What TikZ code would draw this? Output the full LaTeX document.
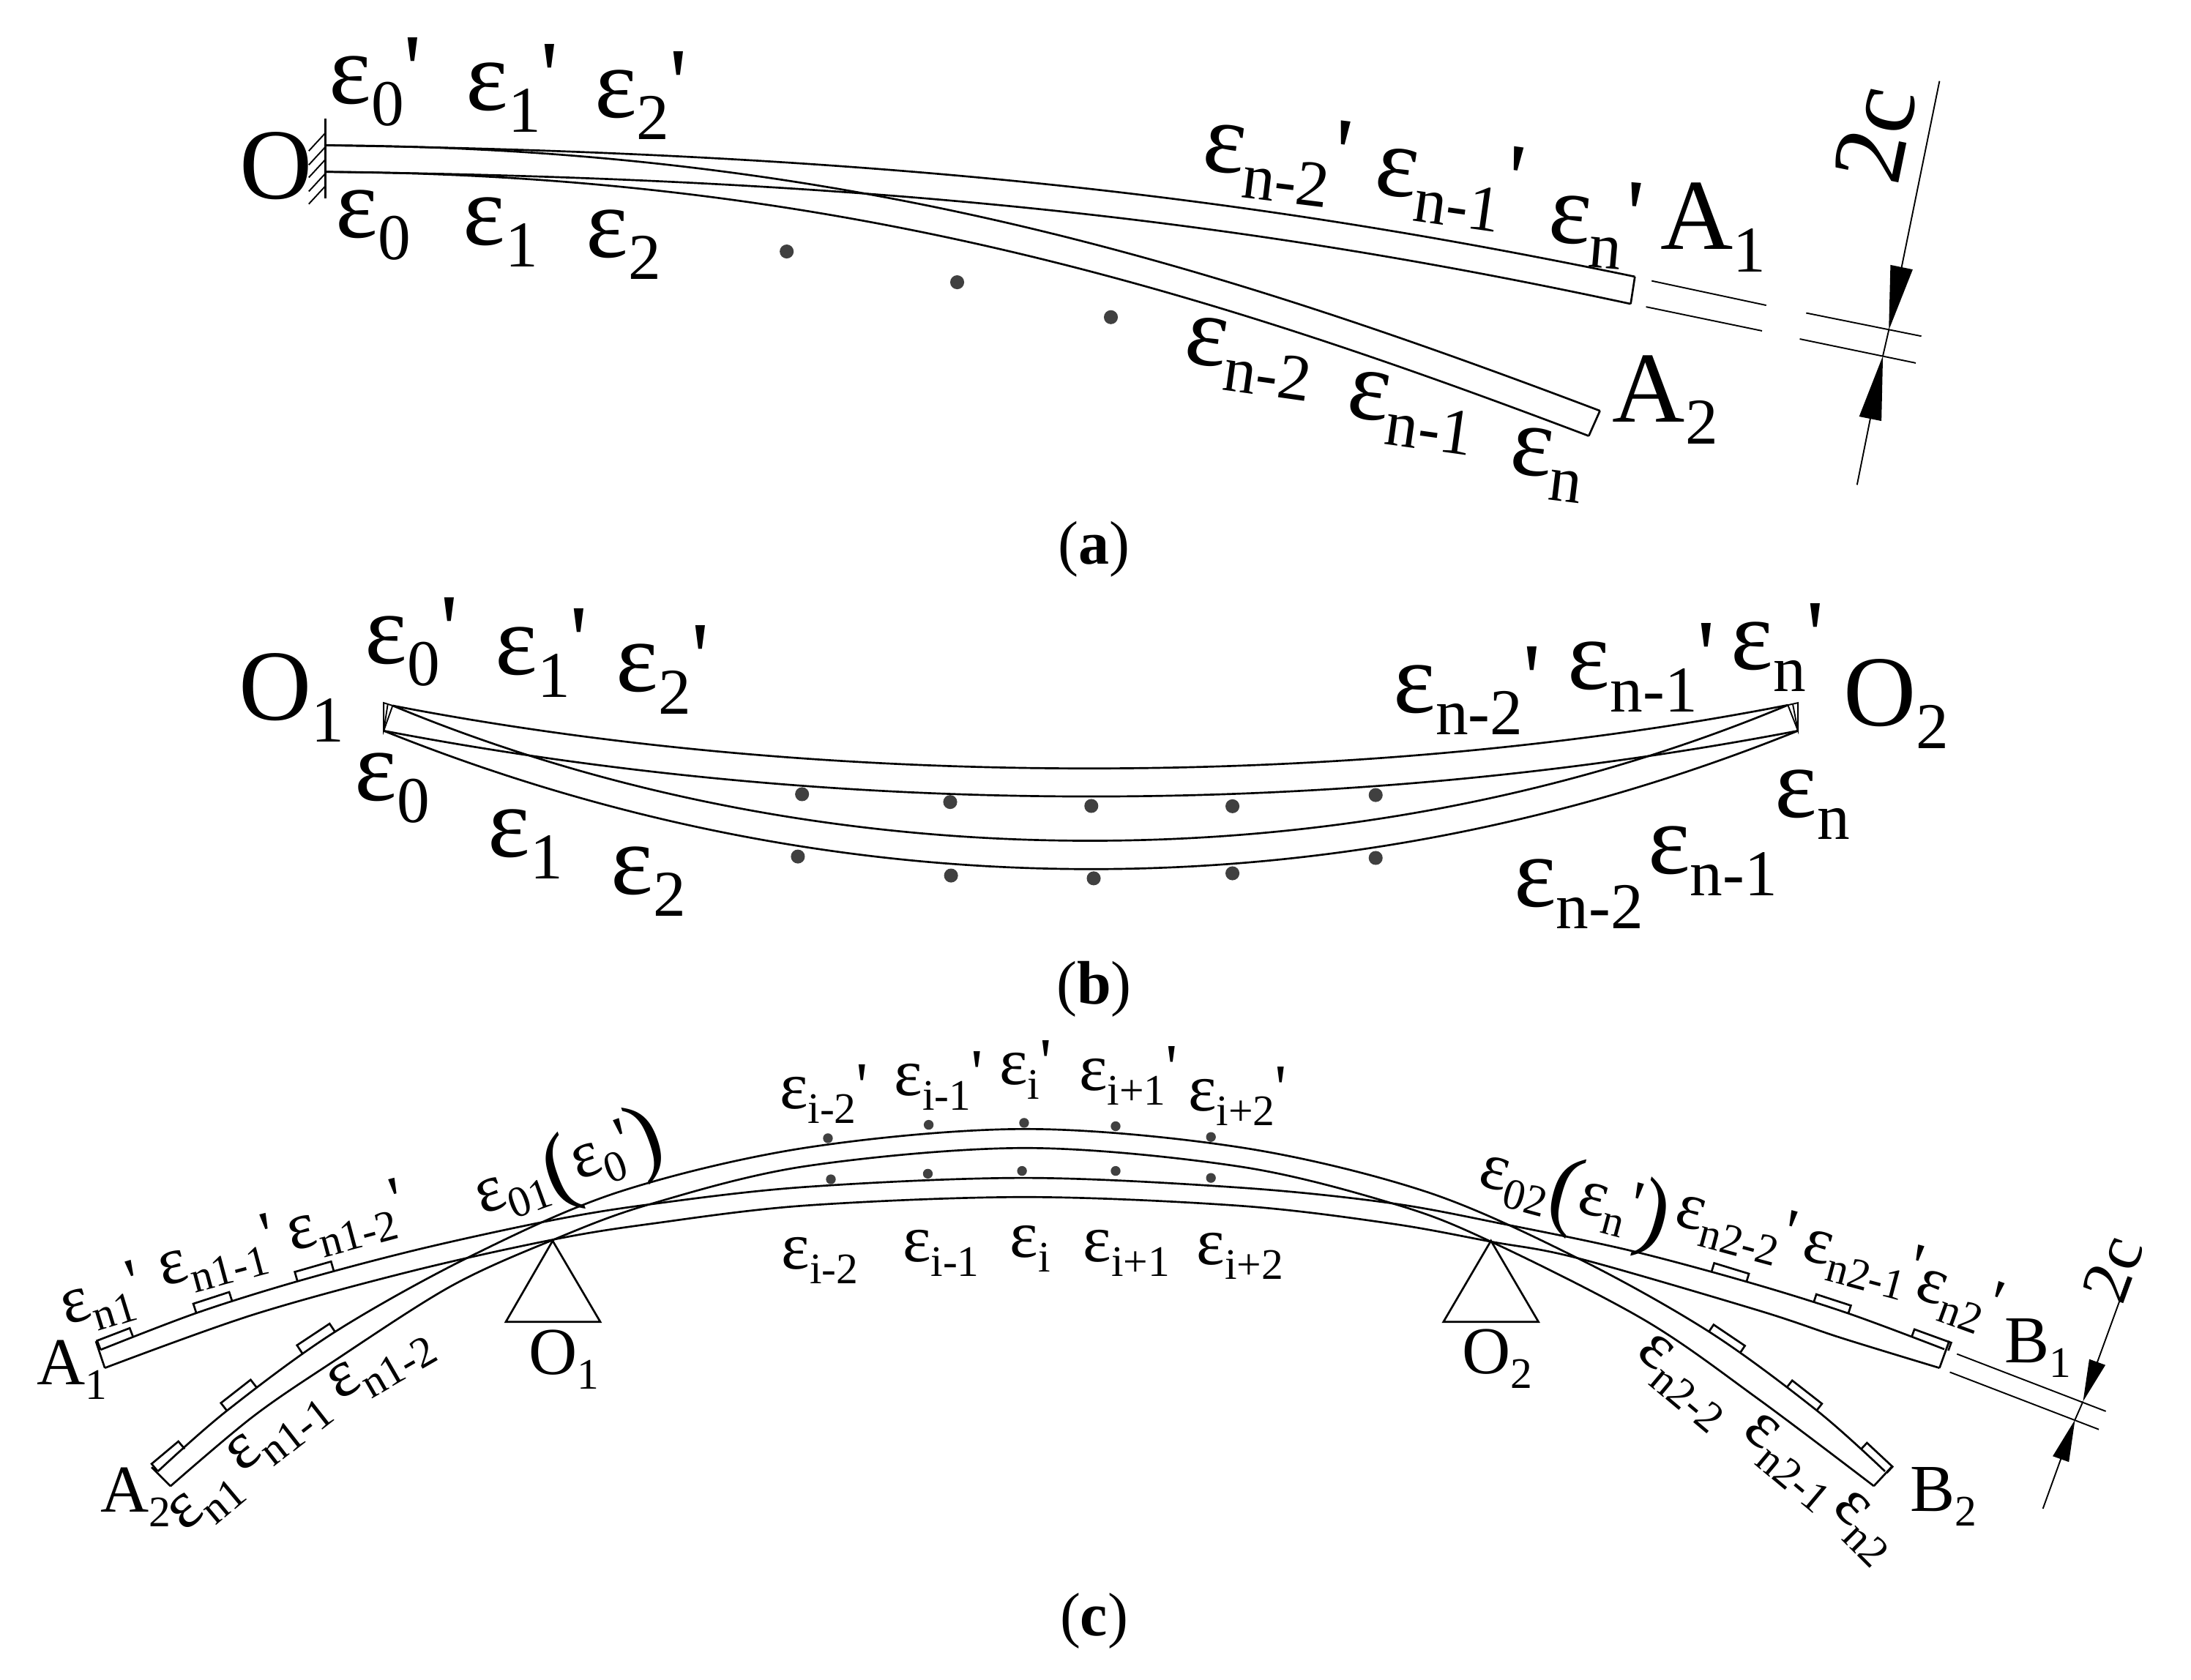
\documentclass[tikz,border=0pt]{standalone}
\usepackage{fontspec}
\usepackage{graphicx}
\usetikzlibrary{arrows.meta}
\newfontfamily\labfont{Liberation Serif}
\definecolor{dotgray}{RGB}{64, 64, 64}
\newcommand{\lowsub}[1]{\raisebox{-.22em}{\scalebox{.65}{#1}}}
\newcommand{\strain}[1]{ε\lowsub{#1}}
\newcommand{\bigparen}[1]{\raisebox{-.15em}{\scalebox{1.35}{#1}}}
\newcommand{\gauge}[5]{\draw[beamline] (#1,#2) -- ++(#3-90:#4) -- ++(#3:#5) -- ++(#3+90:#4);}
\tikzset{
  beamline/.style={line width=.7pt},
  thinline/.style={line width=.5pt},
  biglab/.style={anchor=base west,inner sep=0pt,font=\fontsize{36}{36}\labfont},
  smalllab/.style={anchor=base west,inner sep=0pt,font=\fontsize{24}{24}\labfont},
  caption/.style={inner sep=0pt,font=\fontsize{22}{22}\labfont},
  smooth line/.style={beamline,smooth,tension=.55}
}

\begin{document}
\begin{tikzpicture}[x=.5pt,y=-.5pt]
        \useasboundingbox (0,0) rectangle (1568,1202);

        % (a)
        \draw[line width=.8pt] (233,85) -- (233,142);
        \foreach \y in {95,105,114,124,133}
            \draw[thinline] (233,\y) -- ++(-12,13);
        \draw[beamline] (233,104) .. controls (640,110) and (900,142) .. (1170,198);
        \draw[beamline] (233,123) .. controls (640,128) and (900,160) .. (1167,217.5);
        \draw[beamline] (233,104) .. controls (600,106) and (860,186) .. (1145,294);
        \draw[beamline] (233,123) .. controls (595,125) and (855,205) .. (1137,312);
        \draw[beamline] (1170,198) -- (1167,217.5);
        \draw[beamline] (1145,294) -- (1137,312);
        \draw[thinline] (1182,201) -- (1264,218.5);
        \draw[thinline] (1178,219.6) -- (1261,236.8);
        \draw[thinline] (1292.6,224) -- (1375,240.6);
        \draw[thinline] (1288,242.6) -- (1371,259.8);
        \coordinate (dimAtop) at (1388,58);
        \coordinate (dimAup) at (1351.7,236.3);
        \coordinate (dimAlow) at (1347.5,254.6);
        \coordinate (dimAbot) at (1329,347);
        \draw[thinline,-{Triangle[length=23pt,width=8pt]}] (dimAtop) -- (dimAup);
        \draw[thinline,-{Triangle[length=23pt,width=8pt]}] (dimAbot) -- (dimAlow);
        \draw[thinline] (dimAup) -- (dimAlow);
        \foreach \x/\y in {563/180,685/202,795/227}
            \fill[dotgray] (\x,\y) circle (5);

        \node[biglab] (aO) at (171,142.5) {O};
        \node[biglab] (aE0p) at (235,74) {\strain{0}'};
        \node[biglab] (aE1p) at (333,78.6) {\strain{1}'};
        \node[biglab] (aE2p) at (425,84) {\strain{2}'};
        \node[biglab] (aE0) at (240,170) {\strain{0}};
        \node[biglab] (aE1) at (331,175) {\strain{1}};
        \node[biglab] (aE2) at (419,184) {\strain{2}};
        \node[biglab,rotate=-7] (aEn2p) at (859,121.5) {\strain{n-2}'};
        \node[biglab,rotate=-8] (aEn1p) at (982,138) {\strain{n-1}'};
        \node[biglab,rotate=-5] (aEnp) at (1107,172.5) {\strain{n}'};
        \node[biglab,rotate=-8] (aEn2) at (846,259) {\strain{n-2}};
        \node[biglab,rotate=-8] (aEn1) at (962,297.7) {\strain{n-1}};
        \node[biglab,rotate=-7] (aEn) at (1079,338) {\strain{n}};
        \node[biglab] (aA1) at (1188,178.6) {A\lowsub{1}};
        \node[biglab] (aA2) at (1153.6,302) {A\lowsub{2}};
        \node[biglab,anchor=center,rotate=78.5] (a2c) at (1342,96) {2c};
        \node[caption] (capA) at (783,393) {(\textbf{a})};

        % (b)
        \draw[thinline] (281,505) -- (274.6,503) -- (274.6,523) -- cycle;
        \draw[thinline] (274.6,523) -- (277.5,504);
        \draw[thinline] (1279.5,504.6) -- (1286.7,503) -- (1286.7,523) -- cycle;
        \draw[thinline] (1286.7,523) -- (1283,504);
        \draw[beamline] (281,505) .. controls (591,565) and (970,565) .. (1279.5,504.6);
        \draw[beamline] (274.6,523) .. controls (603,585.7) and (959,585.7) .. (1286.7,523);
        \draw[beamline] (281,505) .. controls (591,634) and (970,634) .. (1279.5,504.6);
        \draw[beamline] (274.6,523) .. controls (603,655) and (959,655) .. (1286.7,523);
        \foreach \x/\y in {574/568.4,680/574,781/576.8,882/577,984.5/569,571/613,680.6/626.6,782.7/628.6,882/625,984.5/614}
            \fill[dotgray] (\x,\y) circle (5);

        \node[biglab] (bO1) at (170.7,515) {O\lowsub{1}};
        \node[biglab] (bO2) at (1319,519.6) {O\lowsub{2}};
        \node[biglab] (bE0p) at (261,475) {\strain{0}'};
        \node[biglab] (bE1p) at (354,483) {\strain{1}'};
        \node[biglab] (bE2p) at (440.6,495) {\strain{2}'};
        \node[biglab] (bE0) at (253.6,572.7) {\strain{0}};
        \node[biglab] (bE1) at (349,613) {\strain{1}};
        \node[biglab] (bE2) at (437,640) {\strain{2}};
        \node[biglab] (bEn2p) at (996.7,509.9) {\strain{n-2}'};
        \node[biglab] (bEn1p) at (1121.7,493.4) {\strain{n-1}'};
        \node[biglab] (bEnp) at (1238.5,479) {\strain{n}'};
        \node[biglab] (bEn) at (1270,585) {\strain{n}};
        \node[biglab] (bEn1) at (1179,625) {\strain{n-1}};
        \node[biglab] (bEn2) at (1083,648.6) {\strain{n-2}};
        \node[caption] (capB) at (783,708) {(\textbf{b})};

        % (c)
        \draw[beamline] (395.5,888) -- (362,946) -- (429.6,946) -- cycle;
        \draw[beamline] (1067,888) -- (1033,946) -- (1101,946) -- cycle;
        \draw[smooth line] plot coordinates {(113,1053) (162.4,1009.6) (240,953) (336.9,899) (443,853) (576,821.5) (734,808) (890,821.5) (1021,853) (1129,900.4) (1223,953) (1300.4,1009.6) (1349,1053)};
        \draw[smooth line] plot coordinates {(122,1063.6) (180.8,1014) (237.6,975) (322.7,920.5) (396.6,887) (464.5,862) (576,834.7) (734,821.6) (888,835) (999,862) (1067,888.6) (1177,944.8) (1258,1001) (1341,1063.5)};
        \draw[smooth line] plot coordinates {(72,966) (140.5,939.7) (212.9,917) (300,894) (394,873.5) (464.5,862) (576,849.5) (734,843) (888,850) (995,861) (1076,876) (1165,894.6) (1250,917.3) (1322,939.7) (1391.5,965.6)};
        \draw[smooth line] plot coordinates {(75,979) (180.8,941) (294.6,909.7) (396.6,887) (466.8,875.7) (576,862.8) (734,856.7) (888,863) (995,875.6) (1067,888.6) (1129,900.4) (1258,937.7) (1318,957.6) (1388,979)};
        \draw[beamline] (68.6,959.9) -- (75,979);
        \draw[beamline] (108.5,1050) -- (122,1063.6);
        \draw[beamline] (1395,959.6) -- (1388,979);
        \draw[beamline] (1354.5,1049) -- (1341,1063.5);
        \gauge{72}{966}{-21}{7}{25}
        \gauge{140.5}{939.7}{-18}{7}{27}
        \gauge{212.9}{917}{-16}{7}{27}
        \gauge{113}{1053}{-40}{7}{25}
        \gauge{162.4}{1009.6}{-38}{7}{27}
        \gauge{216.4}{968.6}{-33.5}{7}{28}
        \gauge{1225}{909.7}{17}{6}{26}
        \gauge{1298}{932}{18}{6}{26}
        \gauge{1368}{957}{20}{6}{28}
        \gauge{1223}{953}{34}{6}{27}
        \gauge{1278.9}{992.7}{38}{6}{27}
        \gauge{1332}{1037}{43}{6}{25}
        \foreach \x/\y in {592.5/814.6,664.6/805,732.9/803.6,798.4/806,866.6/813.7,594.6/844,664/840,731.4/838,798.4/838,866.6/843}
            \fill[dotgray] (\x,\y) circle (3.5);
        \draw[thinline] (1400.5,969) -- (1507,1010);
        \draw[thinline] (1395.4,982) -- (1502,1023);
        \coordinate (dimCtop) at (1522.7,915);
        \coordinate (dimCup) at (1490.7,1003);
        \coordinate (dimClow) at (1485,1016);
        \coordinate (dimCbot) at (1462,1079.7);
        \draw[thinline,-{Triangle[length=15pt,width=6pt]}] (dimCtop) -- (dimCup);
        \draw[thinline,-{Triangle[length=15pt,width=6pt]}] (dimCbot) -- (dimClow);
        \draw[thinline] (dimCup) -- (dimClow);

        \node[smalllab] (cEi2p) at (557.6,793.6) {\strain{i-2}'};
        \node[smalllab] (cEi1p) at (639.6,784) {\strain{i-1}'};
        \node[smalllab] (cEip) at (714.8,776) {\strain{i}'};
        \node[smalllab] (cEj1p) at (772,780.5) {\strain{i+1}'};
        \node[smalllab] (cEj2p) at (850,795) {\strain{i+2}'};
        \node[smalllab] (cEi2) at (559,908) {\strain{i-2}};
        \node[smalllab] (cEi1) at (645.6,902.8) {\strain{i-1}};
        \node[smalllab] (cEi) at (722.4,899.8) {\strain{i}};
        \node[smalllab] (cEj1) at (774.8,902.8) {\strain{i+1}};
        \node[smalllab] (cEj2) at (856,905) {\strain{i+2}};
        \node[smalllab,rotate=17] (cAn1p) at (47.4,948.8) {\strain{n1}'};
        \node[smalllab,rotate=15] (cAn2p) at (116.8,920.6) {\strain{n1-1}'};
        \node[smalllab,rotate=15] (cAn3p) at (209,895.5) {\strain{n1-2}'};
        \node[smalllab,rotate=20] (cE01) at (345,869.6) {\strain{01}\bigparen{(}\strain{0}'\bigparen{)}};
        \node[smalllab,rotate=40] (cAn1) at (132,1097) {\strain{n1}};
        \node[smalllab,rotate=38] (cAn2) at (173,1054.7) {\strain{n1-1}};
        \node[smalllab,rotate=30] (cAn3) at (242.6,1002.5) {\strain{n1-2}};
        \node[smalllab,rotate=-15] (cE02) at (1056.8,847.8) {\strain{02}\bigparen{(}\strain{n}'\bigparen{)}};
        \node[smalllab,rotate=-15] (cBn3p) at (1197,876) {\strain{n2-2}'};
        \node[smalllab,rotate=-15] (cBn2p) at (1288,900.7) {\strain{n2-1}'};
        \node[smalllab,rotate=-20] (cBn1p) at (1369,928) {\strain{n2}'};
        \node[smalllab,rotate=-40] (cBn3) at (1170,969) {\strain{n2-2}};
        \node[smalllab,rotate=-40] (cBn2) at (1246,1026) {\strain{n2-1}};
        \node[smalllab,rotate=-45] (cBn1) at (1310,1079.7) {\strain{n2}};
        \node[smalllab] (cA1) at (26,991) {A\lowsub{1}};
        \node[smalllab] (cA2) at (71.5,1082) {A\lowsub{2}};
        \node[smalllab] (cB1) at (1434,975) {B\lowsub{1}};
        \node[smalllab] (cB2) at (1366.5,1081.6) {B\lowsub{2}};
        \node[smalllab] (cO1) at (378,983.6) {O\lowsub{1}};
        \node[smalllab] (cO2) at (1046,983) {O\lowsub{2}};
        \node[smalllab,anchor=center,rotate=70] (c2c) at (1512,908) {2c};
        \node[caption] (capC) at (783,1160) {(\textbf{c})};
    \end{tikzpicture}
\end{document}
